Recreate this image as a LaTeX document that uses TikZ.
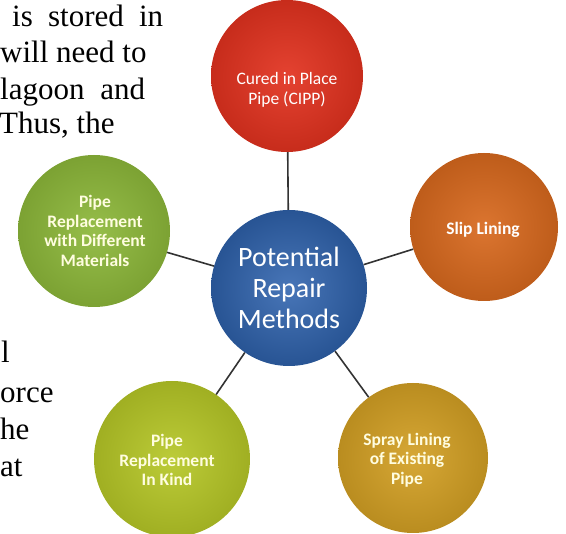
\documentclass[tikz,border=0pt]{standalone}
\usepackage{fontspec}
\setmainfont{Liberation Serif}
\newfontfamily\calfont{Carlito}
\begin{document}
\begin{tikzpicture}[x=1pt, y=-1pt,
  method/.style={circle, minimum size=#1, inner sep=0pt},
  caption/.style={align=center, text=#1, font=\calfont\bfseries\fontsize{17.5}{19.5}\selectfont},
  hub/.style={circle, minimum size=156pt, inner sep=0pt, align=center, text=white,
    font=\calfont\fontsize{28}{31}\selectfont, shading=radial, inner color=hubblue!88!white, outer color=hubblue!85!black},
  link/.style={draw=black!80, line width=1.6pt},
  body/.style={anchor=base west, inner sep=0pt, font=\fontsize{31}{36}\selectfont}]
  \definecolor{hubblue}{HTML}{2F63AE}
  \definecolor{cippred}{HTML}{E2321F}
  \definecolor{sliporange}{HTML}{D8691E}
  \definecolor{diffgreen}{HTML}{8DB83A}
  \definecolor{kindlime}{HTML}{B6C727}
  \definecolor{spraygold}{HTML}{D3A024}
  \useasboundingbox (0,0) rectangle (566,534);

  % running text of the page, cut off by the figure
  \node[body, text width=151pt] (t1) at (12,27) {is\hfill stored\hfill in};
  \node[body] (t2) at (0,63) {will need to};
  \node[body, text width=145pt] (t3) at (0,100) {lagoon\hfill and};
  \node[body] (t4) at (-1,134) {Thus, the};
  \node[body] (t5) at (1,363) {l};
  \node[body] (t6) at (0,403) {orce};
  \node[body] (t7) at (0,440) {he};
  \node[body] (t8) at (0,477) {at};

  % hub and the five methods
  \node[hub] (hub) at (289,288) {Potential\\Repair\\Methods};
  \foreach \n/\x/\y/\d/\c in {cipp/287/76/152/cippred, slip/484/227/148/sliporange,
      diff/94/231/152/diffgreen, kind/172/459/156/kindlime, spray/413/458/150/spraygold}
    \node[method=\d pt, shading=radial, inner color=\c!92!white, outer color=\c!88!black] (\n) at (\x,\y) {};
  \foreach \m in {cipp, slip, diff, kind, spray} \draw[link] (hub) -- (\m);

  \node[caption=white, font=\calfont\fontsize{17.5}{19.5}\selectfont] (cippt) at (287,90) {Cured in Place\\Pipe (CIPP)};
  \node[caption=white] (slipt) at (483,230) {Slip Lining};
  \node[caption=yellow!12!white] (difft) at (95,231) {Pipe\\Replacement\\with Different\\Materials};
  \node[caption=yellow!12!white] (kindt) at (167,460) {Pipe\\Replacement\\In Kind};
  \node[caption=yellow!12!white] (sprayt) at (407,460) {Spray Lining\\of Existing\\Pipe};
\end{tikzpicture}
\end{document}
